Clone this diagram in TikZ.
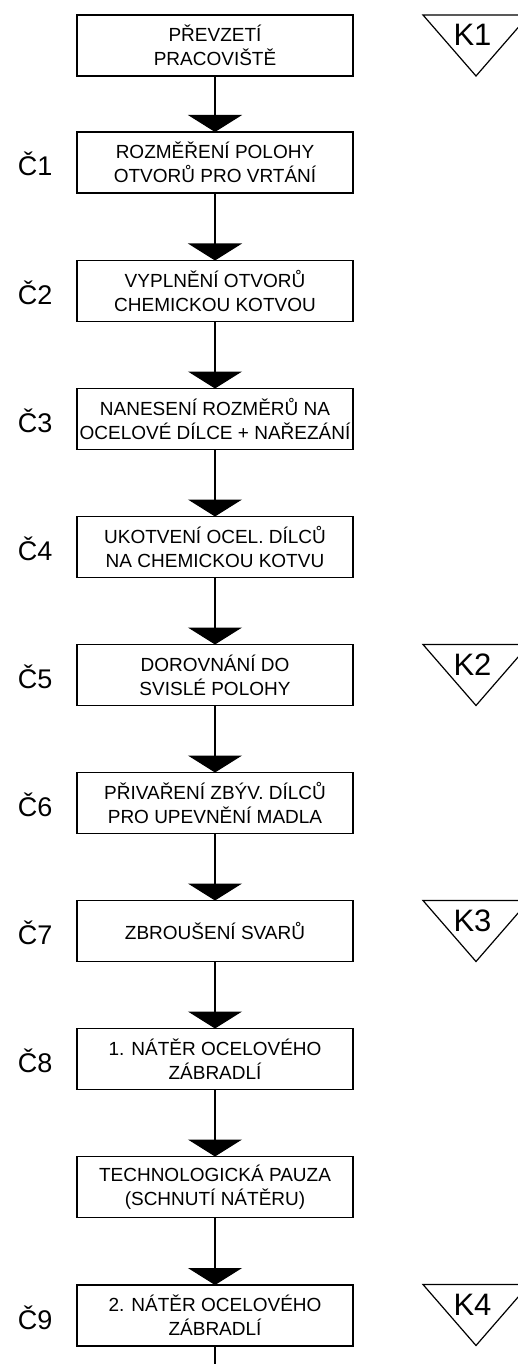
\documentclass[tikz,border=0pt]{standalone}
\usepackage{fontspec}
\setmainfont{Liberation Sans}
\usetikzlibrary{arrows.meta}

\begin{document}
\begin{tikzpicture}[x=1pt,y=1pt,line width=1.2pt,
  box/.style={draw,align=center,minimum width=276pt,minimum height=61pt,inner sep=0pt,outer sep=0pt,font=\fontsize{19}{24}\selectfont},
  num/.style={anchor=base east,inner sep=0pt,font=\fontsize{27}{27}\selectfont},
  kmark/.style={anchor=base,inner sep=0pt,font=\fontsize{31}{31}\selectfont},
  flow/.style={-{Triangle[width=54pt,length=17pt]}}]
\path[use as bounding box,fill=white] (0,0) rectangle (517,-1364);
\node[box] (p0) at (215,-45.5) {PŘEVZETÍ\\PRACOVIŠTĚ};
\node[box] (c1) at (215,-162.5) {ROZMĚŘENÍ POLOHY\\OTVORŮ PRO VRTÁNÍ};
\node[box] (c2) at (215,-291) {VYPLNĚNÍ OTVORŮ\\CHEMICKOU KOTVOU};
\node[box] (c3) at (215,-419) {NANESENÍ ROZMĚRŮ NA\\OCELOVÉ DÍLCE + NAŘEZÁNÍ};
\node[box] (c4) at (215,-547) {UKOTVENÍ OCEL. DÍLCŮ\\NA CHEMICKOU KOTVU};
\node[box] (c5) at (215,-675) {DOROVNÁNÍ DO\\SVISLÉ POLOHY};
\node[box] (c6) at (215,-803) {PŘIVAŘENÍ ZBÝV. DÍLCŮ\\PRO UPEVNĚNÍ MADLA};
\node[box] (c7) at (215,-931) {ZBROUŠENÍ SVARŮ};
\node[box] (c8) at (215,-1059) {1. NÁTĚR OCELOVÉHO\\ZÁBRADLÍ};
\node[box] (pz) at (215,-1187) {TECHNOLOGICKÁ PAUZA\\(SCHNUTÍ NÁTĚRU)};
\node[box] (c9) at (215,-1315.5) {2. NÁTĚR OCELOVÉHO\\ZÁBRADLÍ};
\coordinate (end) at (215,-1370);
% step numbers
\node[num] (n1) at (53,-176) {Č1};
\node[num] (n2) at (53,-304.5) {Č2};
\node[num] (n3) at (53,-432.5) {Č3};
\node[num] (n4) at (53,-560.5) {Č4};
\node[num] (n5) at (53,-688.5) {Č5};
\node[num] (n6) at (53,-816.5) {Č6};
\node[num] (n7) at (53,-944.5) {Č7};
\node[num] (n8) at (53,-1072.5) {Č8};
\node[num] (n9) at (53,-1329) {Č9};
% checkpoints
\draw (423,-15) -- (529,-15) -- (476,-76) -- cycle;
\draw (423,-644.5) -- (529,-644.5) -- (476,-705.5) -- cycle;
\draw (423,-900.5) -- (529,-900.5) -- (476,-961.5) -- cycle;
\draw (423,-1284.5) -- (529,-1284.5) -- (476,-1345.5) -- cycle;
\node[kmark] (k1) at (472.5,-46) {K1};
\node[kmark] (k2) at (472.5,-675.5) {K2};
\node[kmark] (k3) at (472.5,-931.5) {K3};
\node[kmark] (k4) at (472.5,-1315.5) {K4};
\draw[flow] (p0)--(c1); \draw[flow] (c1)--(c2); \draw[flow] (c2)--(c3);
\draw[flow] (c3)--(c4); \draw[flow] (c4)--(c5); \draw[flow] (c5)--(c6);
\draw[flow] (c6)--(c7); \draw[flow] (c7)--(c8); \draw[flow] (c8)--(pz);
\draw[flow] (pz)--(c9); \draw (c9)--(end);
\end{tikzpicture}
\end{document}
